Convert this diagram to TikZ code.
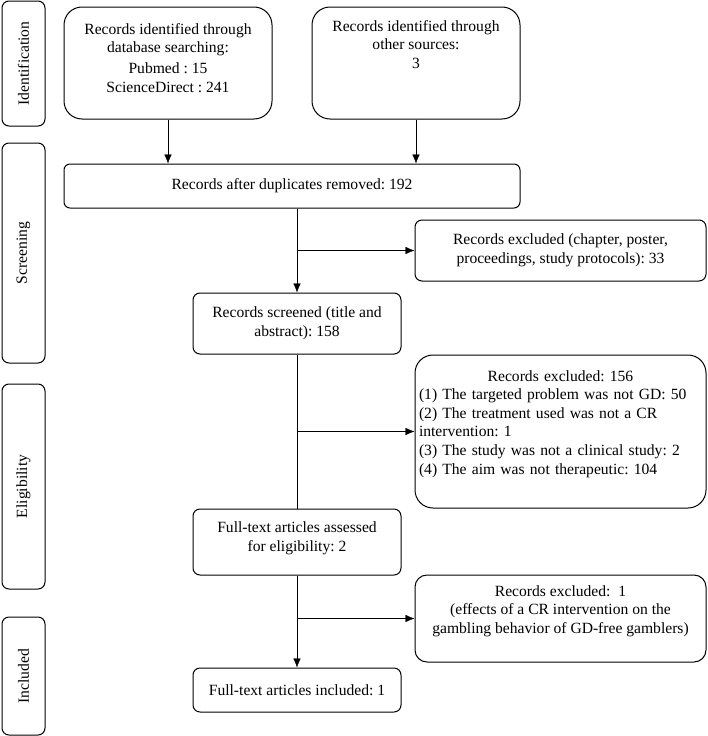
\documentclass[tikz,border=0pt]{standalone}
\usepackage{fontspec}
\setmainfont{Liberation Serif}
\usetikzlibrary{arrows.meta}
\frenchspacing

\tikzset{
	box/.style={draw, rounded corners=7pt, line width=1pt, align=center, inner sep=3pt},
	bigbox/.style={box, rounded corners=18pt},
	phase/.style={box, rotate=90, minimum height=43pt},
}

\begin{document}
\begin{tikzpicture}[x=1pt, y=-1pt, >={Latex[length=9pt,width=7.5pt]}, font=\fontsize{15.6}{18.6}\selectfont]
	\useasboundingbox (0,0) rectangle (708,736);
	% stages
	\node[phase, minimum width=125pt] (ident) at (23.5,63.5) {Identification};
	\node[phase, minimum width=220pt] (screen) at (23.5,253) {Screening};
	\node[phase, minimum width=205pt] (elig) at (23.5,486.5) {Eligibility};
	\node[phase, minimum width=118pt] (incl) at (23.5,676) {Included};
	% records
	\node[bigbox, minimum width=208pt, minimum height=112pt] (db) at (168,63) {Records identified through\\ database searching:\\[2pt] Pubmed : 15\\ ScienceDirect : 241\\[-8pt] ~};
	\node[bigbox, minimum width=208pt, minimum height=112pt] (other) [right of=db, node distance=248pt] {Records identified through\\ other sources:\\ 3\\ ~\\ ~};
	\node[box, rounded corners=6pt, minimum width=456pt, minimum height=44pt] (dup) at (292,186) {Records after duplicates removed: 192};
	\node[box, minimum width=208pt, minimum height=61pt] (screened) at (297,323.5) {Records screened (title and\\ abstract): 158};
	\node[box, minimum width=208pt, minimum height=66pt] (full) at (297,542) {Full-text articles assessed\\ for eligibility: 2\\[-8pt] ~};
	\node[box, minimum width=208pt, minimum height=44pt] (incd) at (297,690) {Full-text articles included: 1};
	% exclusions
	\node[box, minimum width=291pt, minimum height=61pt] (ex1) at (560.5,250.5) {Records excluded (chapter, poster,\\ proceedings, study protocols): 33};
	\node[bigbox, minimum width=291pt, minimum height=153pt, text width=283pt, align=left] (ex2) at (560.5,431.5) {{\centering Records excluded: 156\par}(1) The targeted problem was not GD: 50\\ (2) The treatment used was not a CR\\ intervention: 1\\ (3) The study was not a clinical study: 2\\ (4) The aim was not therapeutic: 104\\ ~};
	\node[box, rounded corners=12pt, minimum width=291pt, minimum height=87pt] (ex3) at (560.5,618.5) {Records excluded:~ 1\\ (effects of a CR intervention on the\\ gambling behavior of GD-free gamblers)\\ ~};
	% flow
	\draw[->] (db.south) -- (db.south |- dup.north);
	\draw[->] (other.south) -- (other.south |- dup.north);
	\draw[->] (dup.south -| screened) -- (screened);
	\draw (screened) -- (full);
	\draw[->] (full) -- (incd);
	\draw[->] (screened |- ex1) -- (ex1);
	\draw[->] (screened |- ex2) -- (ex2);
	\draw[->] (screened |- ex3) -- (ex3);
\end{tikzpicture}
\end{document}
